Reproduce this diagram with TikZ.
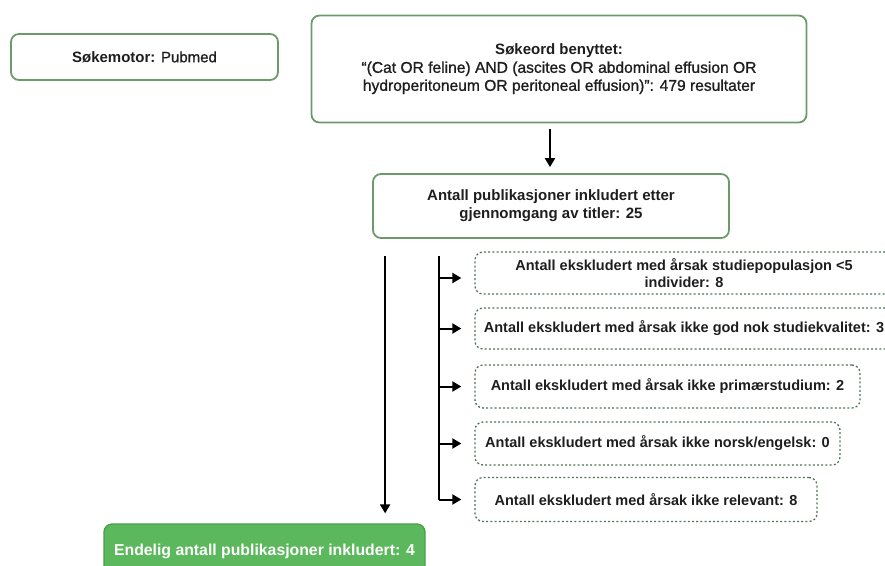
\documentclass[tikz,border=0pt]{standalone}
\usepackage{fontspec}
\setmainfont{Liberation Sans}
\newfontfamily\medfont[FakeBold=1.1]{Liberation Sans}
\usetikzlibrary{arrows.meta,calc}
\definecolor{boxgreen}{HTML}{6B9B6B}
\definecolor{dotgreen}{HTML}{4F7458}
\definecolor{fillgreen}{HTML}{5CB85C}
\definecolor{edgegreen}{HTML}{4A9E4A}
\definecolor{ink}{HTML}{1E1E1E}
\newcommand{\fsz}[1]{\fontsize{#1}{1.2\dimexpr #1pt\relax}\selectfont}
\begin{document}
\begin{tikzpicture}[x=1pt,y=-1pt,
  every node/.style={font=\fsz{14.5}\bfseries, text=ink, align=center, inner sep=0pt},
  mainbox/.style={draw=boxgreen, line width=1.8pt, rounded corners=8pt},
  exclbox/.style={draw=dotgreen, line width=1.3pt, dash pattern=on 2pt off 2.2pt, rounded corners=8pt},
  finalbox/.style={draw=edgegreen, fill=fillgreen, line width=1.3pt, rounded corners=8pt, text=white},
  flow/.style={draw=black, line width=2pt},
  flowarrow/.style={flow, -{Triangle[length=9pt,width=10pt]}}]
\useasboundingbox (0,0) rectangle (885,565);
\clip (0,0) rectangle (885,565);

% search engine and search string
\node[mainbox, minimum width=267pt, minimum height=46pt, font=\fsz{15}\bfseries] (engine) at (144.5,57)
  {Søkemotor: {\medfont\mdseries Pubmed}};
\node[mainbox, minimum width=495pt, minimum height=107pt, font=\fsz{15}\bfseries] (query) at (559,69)
  {Søkeord benyttet:\\
   {\medfont\mdseries\fsz{15.6}“(Cat OR feline) AND (ascites OR abdominal effusion OR}\\
   {\medfont\mdseries\fsz{15.6}hydroperitoneum OR peritoneal effusion)”: 479 resultater}};

% after title screening
\node[mainbox, minimum width=356pt, minimum height=64pt, font=\fsz{15}\bfseries] (titles) at (551,206)
  {Antall publikasjoner inkludert etter\\gjennomgang av titler: 25};

% exclusion reasons
\node[exclbox, minimum width=418pt, minimum height=42pt] (ex1) at (684,273)
  {Antall ekskludert med årsak studiepopulasjon <5\\individer: 8};
\node[exclbox, minimum width=418pt, minimum height=41pt] (ex2) at (684,328.5)
  {Antall ekskludert med årsak ikke god nok studiekvalitet: 3};
\node[exclbox, minimum width=385pt, minimum height=43pt] (ex3) at (667.5,386.5)
  {Antall ekskludert med årsak ikke primærstudium: 2};
\node[exclbox, minimum width=365pt, minimum height=43pt] (ex4) at (657.5,443.5)
  {Antall ekskludert med årsak ikke norsk/engelsk: 0};
\node[exclbox, minimum width=342pt, minimum height=44pt] (ex5) at (646,499.5)
  {Antall ekskludert med årsak ikke relevant: 8};

% final result
\node[finalbox, minimum width=321pt, minimum height=54pt, font=\fsz{15.8}\bfseries] (final) at (264.5,551)
  {Endelig antall publikasjoner inkludert: 4};

% connectors
\draw[flowarrow, shorten <=6pt, shorten >=6pt] (query.south -| 550,0) -- (titles.north -| 550,0);

\coordinate (trunk) at ($(titles.south west)+(13,17)$);
\coordinate (branch) at ($(titles.south west)+(67,17)$);
\draw[flowarrow, shorten >=10pt] (trunk) -- (trunk |- final.north);
\draw[flow] (branch) -- (branch |- ex5.west);
\draw[flowarrow, shorten >=13pt] ([yshift=-5pt]branch |- ex1.west) -- ([yshift=-5pt]ex1.west);
\foreach \b in {ex2,ex3,ex4,ex5}
  \draw[flowarrow, shorten >=13pt] (branch |- \b.west) -- (\b.west);
\end{tikzpicture}
\end{document}
